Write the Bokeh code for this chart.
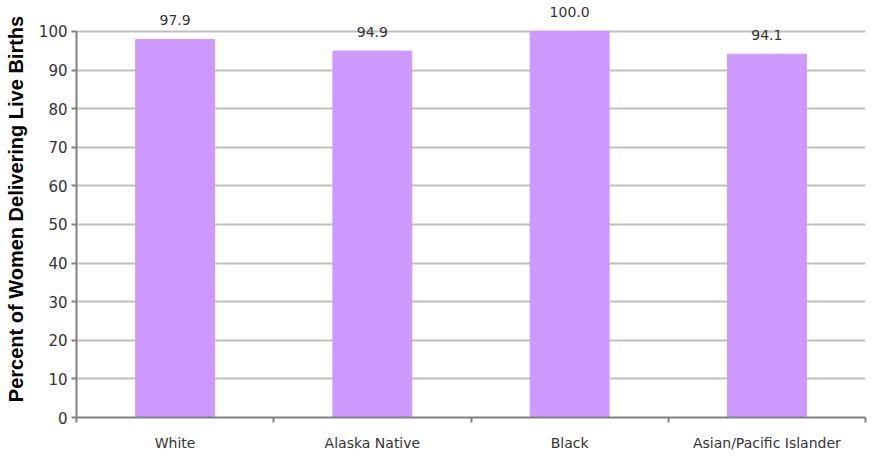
from bokeh.plotting import figure
from bokeh.models import Range1d, FixedTicker, ColumnDataSource, LabelSet
from bokeh.core.properties import value
from bokeh.embed import file_html
from bokeh.resources import INLINE

categories = ["White", "Alaska Native", "Black", "Asian/Pacific Islander"]
values = [97.9, 94.9, 100.0, 94.1]
labels = ["97.9", "94.9", "100.0", "94.1"]

centers = [i + 0.5 for i in range(len(categories))]
src = ColumnDataSource(dict(x=centers, top=values, lab=labels))

FONT = "DejaVu Sans"

p = figure(width=871, height=453, output_backend="svg", toolbar_location=None,
           x_range=Range1d(0, len(categories)), y_range=Range1d(0, 108))
p.min_border_left = 76
p.min_border_right = 6
p.min_border_top = 0
p.min_border_bottom = 35
p.outline_line_color = None
p.background_fill_color = "white"
p.border_fill_color = "white"

p.vbar(x="x", top="top", width=0.4, source=src, color="#CC99FF")

p.add_layout(LabelSet(x="x", y="top", text="lab", source=src, y_offset=14,
                      text_align="center", text_baseline="bottom",
                      text_font_size="14px", text_color="#333333",
                      text_font=value(FONT)))

# y axis
p.yaxis.ticker = FixedTicker(ticks=list(range(0, 101, 10)))
p.yaxis.bounds = (0, 100)
p.yaxis.axis_label = "Percent of Women Delivering Live Births"
p.yaxis.axis_label_text_font_style = "bold"
p.yaxis.axis_label_text_font_size = "20px"
p.yaxis.axis_label_text_font = "Liberation Sans"
p.yaxis.axis_label_text_color = "#000000"
p.yaxis.axis_label_standoff = 9
p.yaxis.major_label_text_font_size = "15px"
p.yaxis.major_label_text_font = FONT
p.yaxis.major_label_text_color = "#333333"
p.yaxis.major_label_standoff = 4
p.yaxis.axis_line_color = "#808080"
p.yaxis.axis_line_width = 2
p.yaxis.major_tick_line_color = "#808080"
p.yaxis.major_tick_line_width = 2
p.yaxis.major_tick_out = 5
p.yaxis.major_tick_in = 0
p.yaxis.minor_tick_line_color = None

# x axis
p.xaxis.ticker = FixedTicker(ticks=centers, minor_ticks=list(range(len(categories) + 1)))
p.xaxis.major_label_overrides = {c: n for c, n in zip(centers, categories)}
p.xaxis.major_label_text_font_size = "14px"
p.xaxis.major_label_text_font = FONT
p.xaxis.major_label_text_color = "#333333"
p.xaxis.major_label_standoff = 12
p.xaxis.major_tick_line_color = None
p.xaxis.major_tick_out = 0
p.xaxis.major_tick_in = 0
p.xaxis.axis_line_color = "#808080"
p.xaxis.axis_line_width = 2
p.xaxis.minor_tick_line_color = "#808080"
p.xaxis.minor_tick_line_width = 2
p.xaxis.minor_tick_out = 5
p.xaxis.minor_tick_in = 0

p.xgrid.grid_line_color = None
p.ygrid.grid_line_color = "#BFBFBF"
p.ygrid.grid_line_width = 2
p.ygrid.bounds = (0, 100)

open("out.html", "w").write(file_html(p, INLINE))
